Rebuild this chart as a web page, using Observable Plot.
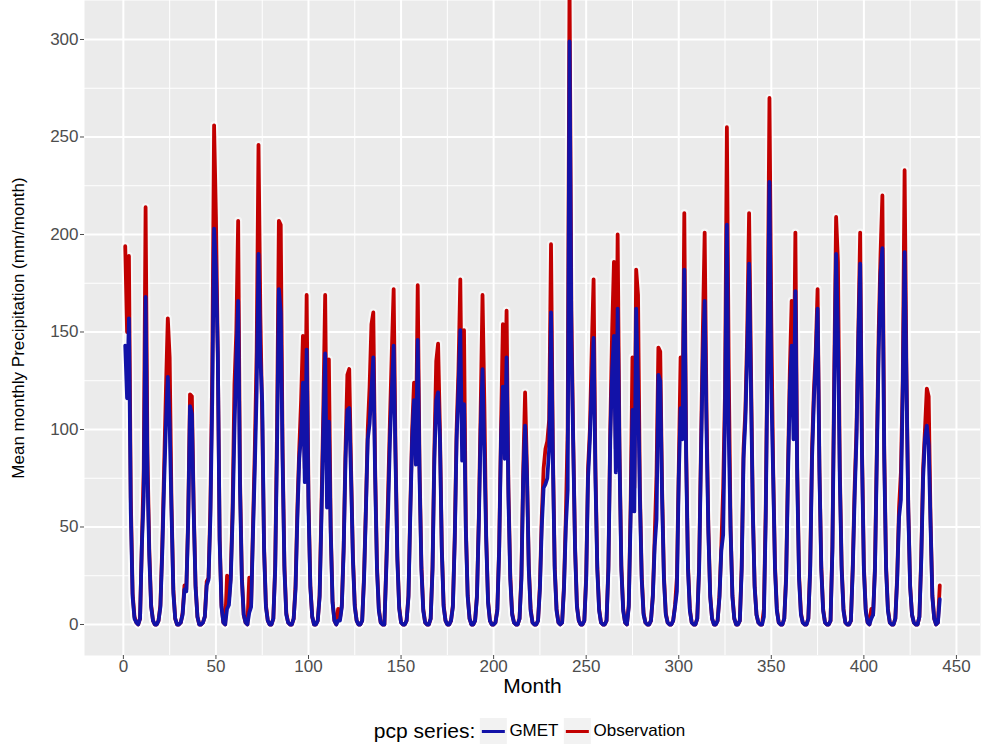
<!DOCTYPE html>
<html>
<head>
<meta charset="utf-8">
<script src="https://cdn.jsdelivr.net/npm/d3@7"></script>
<script src="https://cdn.jsdelivr.net/npm/@observablehq/plot@0.6"></script>
<style>
  body { margin: 0; background: #ffffff; font-family: "Liberation Sans", Arial, Helvetica, sans-serif; }
  #wrap { position: relative; width: 982px; height: 744px; overflow: hidden; }
  #legend { position: absolute; top: 716px; left: 532px; transform: translateX(-50%);
            display: flex; align-items: center; white-space: nowrap; height: 30px; }
  #legend .title { font-size: 21px; color: #000; margin-right: 4px; }
  #legend .key { width: 27px; height: 27px; background: #f2f2f2; position: relative; margin-right: 3px; }
  #legend .key span { position: absolute; left: 2px; right: 2px; top: 12px; height: 3px; }
  #legend .lab { font-size: 17px; color: #000; margin-right: 5px; }
</style>
</head>
<body>
<div id="wrap"><div id="chart"></div><div id="legend"></div></div>
<script>
// Observation (mm/month), months 1..441
const obs = [
  194,150,189,65,16,4,1,0,3,42,80,214,
  88,38,10,2,0,0,2,10,40,80,121,157,
  137,62,18,3,0,0,1,6,20,18,55,118,
  117,60,20,4,0,0,1,4,22,24,60,130,
  256,209,140,45,10,1,0,25,12,25,60,123,
  150,207,75,25,5,1,0,24,10,50,90,140,
  246,159,105,40,10,2,0,0,3,30,100,207,
  205,90,30,6,1,0,0,3,20,60,90,115,
  148,80,169,65,20,4,0,0,2,15,60,110,
  169,75,136,50,12,2,0,8,3,10,40,90,
  128,131,80,35,10,2,0,0,2,25,60,100,
  122,154,160,80,30,8,1,0,0,30,67,105,
  140,172,90,35,9,1,0,0,2,15,60,100,
  124,90,174,80,30,8,1,0,0,3,30,90,
  135,144,100,40,10,2,0,0,2,10,45,100,
  130,177,95,151,50,15,3,0,0,2,15,55,
  110,169,113,45,12,2,0,0,1,8,40,100,
  154,100,161,70,25,6,1,0,0,3,25,80,
  119,80,30,8,1,0,0,2,20,55,80,90,
  94,105,195,90,30,8,1,0,1,20,55,100,
  330,161,95,40,10,2,0,0,2,25,80,100,
  141,177,80,30,8,1,0,0,2,30,100,150,
  186,90,200,90,30,8,1,0,10,60,137,70,
  182,169,70,25,6,1,0,0,2,15,45,77,
  142,140,70,25,6,1,0,0,2,10,24,80,
  137,100,211,90,30,8,1,0,0,3,30,90,
  150,201,110,50,15,3,0,0,2,15,40,70,
  120,255,131,50,15,3,0,0,2,30,90,110,
  150,211,133,60,20,5,1,0,0,8,60,150,
  270,155,80,30,8,1,0,0,3,25,80,130,
  166,110,201,80,25,6,1,0,0,3,30,90,
  120,140,172,80,30,8,1,0,0,2,40,130,
  209,186,80,30,8,1,0,0,2,30,70,100,
  150,201,90,30,8,1,0,8,5,30,90,150,
  190,220,90,30,8,1,0,0,3,25,60,78,
  125,233,130,60,20,5,1,0,0,4,35,80,
  100,121,117,55,15,3,0,1,20
];
// GMET (mm/month), months 1..441
const gmet = [
  143,116,157,58,14,3,1,0,3,41,66,168,
  77,35,9,2,0,0,2,9,37,72,103,127,
  103,58,16,3,0,0,1,5,18,17,52,112,
  108,57,19,4,0,0,1,4,20,23,55,115,
  203,182,139,43,9,1,0,8,10,23,55,100,
  135,166,70,23,5,1,0,6,9,46,80,120,
  190,137,114,38,9,2,0,0,3,28,90,172,
  160,85,28,5,1,0,0,3,18,55,85,97,
  124,73,141,60,19,4,0,0,2,14,55,100,
  139,60,104,47,11,2,0,2,2,9,38,85,
  110,111,75,33,9,2,0,0,2,23,58,95,
  103,120,137,75,28,7,1,0,0,28,58,95,
  120,143,85,33,8,1,0,0,2,14,57,95,
  115,82,146,75,28,7,1,0,0,3,28,85,
  115,119,95,38,9,2,0,0,2,9,43,95,
  120,151,84,113,48,14,3,0,0,2,14,52,
  100,131,88,43,11,2,0,0,1,7,38,95,
  122,85,137,65,23,5,1,0,0,3,23,75,
  102,76,28,7,1,0,0,2,18,50,70,72,
  75,90,160,85,28,7,1,0,1,18,50,69,
  299,146,92,38,9,2,0,0,2,23,75,95,
  122,147,75,28,7,1,0,0,2,28,95,130,
  148,78,162,85,28,7,1,0,9,55,110,58,
  162,123,65,23,5,1,0,0,2,14,40,54,
  128,125,65,23,5,1,0,0,2,9,17,75,
  111,95,182,85,28,7,1,0,0,3,28,85,
  135,166,100,47,14,3,0,0,2,14,38,46,
  110,205,98,48,14,3,0,0,2,28,85,105,
  140,185,122,58,19,5,1,0,0,4,55,140,
  227,121,76,28,7,1,0,0,3,23,75,120,
  143,95,171,75,23,5,1,0,0,3,28,85,
  115,135,162,78,28,7,1,0,0,2,38,120,
  190,149,75,28,7,1,0,0,2,28,65,95,
  145,185,85,28,7,1,0,3,5,28,85,140,
  180,193,85,28,7,1,0,0,3,23,55,64,
  120,191,125,58,19,5,1,0,0,4,33,75,
  95,102,92,52,14,3,0,1,13
];

const xTicks = [0, 50, 100, 150, 200, 250, 300, 350, 400, 450];
const xMinor = [25, 75, 125, 175, 225, 275, 325, 375, 425];
const yTicks = [0, 50, 100, 150, 200, 250, 300];
const yMinor = [25, 75, 125, 175, 225, 275];
const seriesNames = ["GMET", "Observation"];
const seriesColors = ["#1212a8", "#c20000"];
const xTitle = "Month";
const yTitle = "Mean monthly Precipitation (mm/month)";
const legendTitle = "pcp series:";

const rows = obs.map((v, i) => ({ month: i + 1, obs: v, gmet: gmet[i] }));

const chart = Plot.plot({
  width: 982,
  height: 700,
  marginLeft: 84,
  marginRight: 2,
  marginTop: 0,
  marginBottom: 45,
  style: { fontFamily: "Liberation Sans, Arial, Helvetica, sans-serif", background: "#ffffff" },
  x: { domain: [-21, 463] },
  y: { domain: [-15.9, 320] },
  marks: [
    Plot.frame({ fill: "#ebebeb", stroke: null }),
    Plot.ruleX(xMinor, { stroke: "#ffffff", strokeWidth: 1 }),
    Plot.ruleY(yMinor, { stroke: "#ffffff", strokeWidth: 1 }),
    Plot.ruleX(xTicks, { stroke: "#ffffff", strokeWidth: 2 }),
    Plot.ruleY(yTicks, { stroke: "#ffffff", strokeWidth: 2 }),
    Plot.line(rows, { x: "month", y: "obs", stroke: "#ffffff", strokeWidth: 8, strokeOpacity: 0.55, clip: true }),
    Plot.line(rows, { x: "month", y: "gmet", stroke: "#ffffff", strokeWidth: 8, strokeOpacity: 0.55, clip: true }),
    Plot.line(rows, { x: "month", y: "obs", stroke: seriesColors[1], strokeWidth: 3.8, clip: true }),
    Plot.line(rows, { x: "month", y: "gmet", stroke: seriesColors[0], strokeWidth: 3.8, clip: true }),
    Plot.axisX(xTicks, { tickSize: 4, tickPadding: 0, fontSize: 17, color: "#4d4d4d", label: null }),
    Plot.axisY(yTicks, { tickSize: 4, tickPadding: 2, fontSize: 17, color: "#4d4d4d", label: null }),
    Plot.text([xTitle], { frameAnchor: "bottom", dy: 37, fontSize: 21, fill: "#000" }),
    Plot.text([yTitle], { frameAnchor: "left", textAnchor: "middle", rotate: -90, dx: -66, fontSize: 17, fill: "#000" })
  ]
});
document.getElementById("chart").appendChild(chart);

const legend = document.getElementById("legend");
const t = document.createElement("span");
t.className = "title"; t.textContent = legendTitle; legend.appendChild(t);
seriesNames.forEach((name, i) => {
  const k = document.createElement("div"); k.className = "key";
  const s = document.createElement("span"); s.style.background = seriesColors[i]; k.appendChild(s);
  legend.appendChild(k);
  const l = document.createElement("span"); l.className = "lab"; l.textContent = name; legend.appendChild(l);
});
</script>
</body>
</html>
